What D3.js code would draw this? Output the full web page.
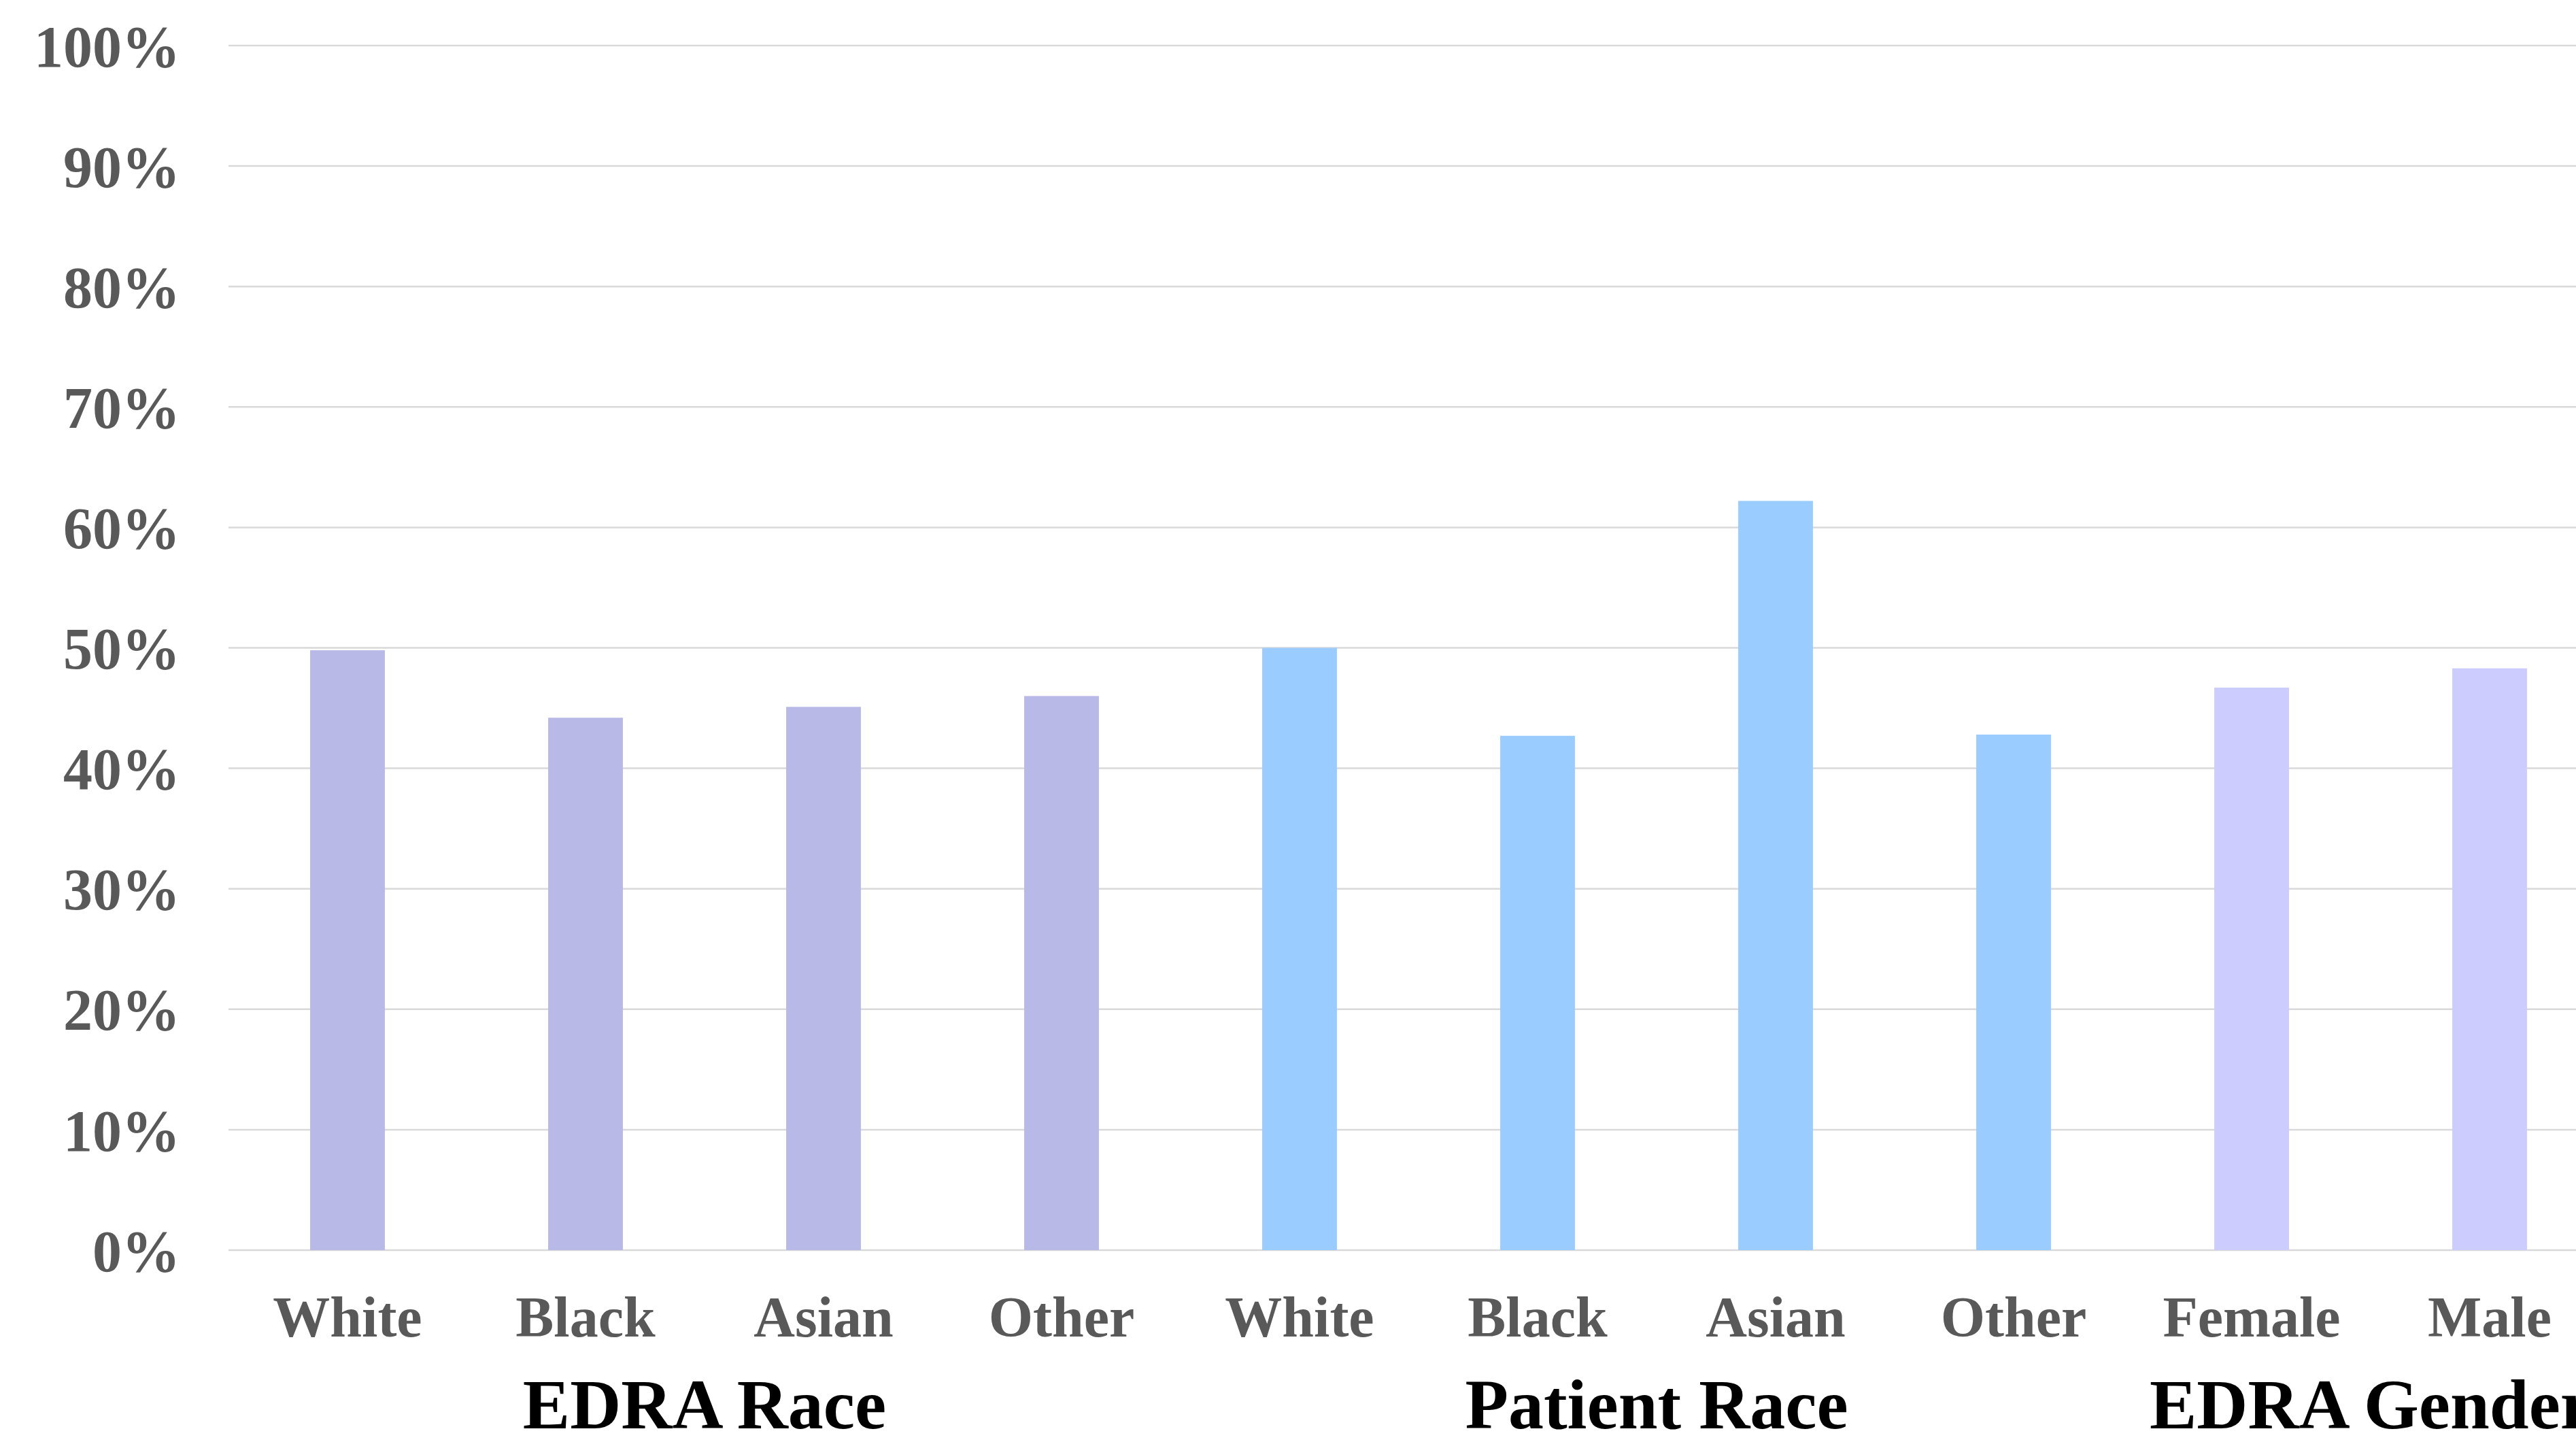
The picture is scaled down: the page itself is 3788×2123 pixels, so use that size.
<!DOCTYPE html>
<html>
<head>
<meta charset="utf-8">
<script src="https://cdn.jsdelivr.net/npm/d3@7"></script>
<style>
  html, body { margin: 0; padding: 0; background: #ffffff; overflow: hidden; }
  svg { display: block; }
</style>
</head>
<body>
<div id="chart"></div>
<script>
// Category labels along the x axis, in drawing order
const categories = ["White", "Black", "Asian", "Other", "White", "Black", "Asian", "Other", "Female", "Male"];
// Group each category belongs to (index into groups)
const groupIndex = [0, 0, 0, 0, 1, 1, 1, 1, 2, 2];
const groups = ["EDRA Race", "Patient Race", "EDRA Gender"];
// Bar values, percent
const values = [49.8, 44.2, 45.1, 46.0, 50.0, 42.7, 62.2, 42.8, 46.7, 48.3];
// Y-axis ticks, percent
const yTicks = [0, 10, 20, 30, 40, 50, 60, 70, 80, 90, 100];
// Fill for each group
const groupColors = ["#B8B9E6", "#9BCCFF", "#CCCCFF"];

const W = 3788, H = 2123;
const plot = { left: 336, right: 3836, top: 67, bottom: 1838 };

const svg = d3.select("#chart").append("svg")
  .attr("width", W).attr("height", H)
  .style("font-family", "'Liberation Serif', 'Times New Roman', serif");

const keys = categories.map((c, i) => i);

const x = d3.scaleBand()
  .domain(keys)
  .range([plot.left, plot.right])
  .paddingInner(0.686)
  .paddingOuter(0.343);

const y = d3.scaleLinear()
  .domain([0, 100])
  .range([plot.bottom, plot.top]);

// Horizontal gridlines
svg.append("g")
  .selectAll("line")
  .data(yTicks)
  .join("line")
  .attr("x1", plot.left)
  .attr("x2", plot.right)
  .attr("y1", d => y(d))
  .attr("y2", d => y(d))
  .attr("stroke", "#D9D9D9")
  .attr("stroke-width", 2.5);

// Y axis labels
const yAxis = d3.axisLeft(y)
  .tickValues(yTicks)
  .tickSize(0)
  .tickPadding(0)
  .tickFormat(d => d + "%");

const yg = svg.append("g")
  .attr("transform", `translate(${plot.left - 71},0)`)
  .call(yAxis);
yg.select(".domain").remove();
yg.selectAll("text")
  .attr("fill", "#595959")
  .attr("font-size", 86)
  .attr("font-weight", "bold")
  .attr("dy", "0.35em")
  .style("font-family", "'Liberation Serif', 'Times New Roman', serif");

// Bars
svg.append("g")
  .selectAll("rect")
  .data(values)
  .join("rect")
  .attr("x", (d, i) => x(i))
  .attr("width", x.bandwidth())
  .attr("y", d => y(d))
  .attr("height", d => y(0) - y(d))
  .attr("fill", (d, i) => groupColors[groupIndex[i]]);

// Category labels
const xAxis = d3.axisBottom(x)
  .tickSize(0)
  .tickPadding(0)
  .tickFormat(i => categories[i]);

const xg = svg.append("g")
  .attr("transform", `translate(0,${plot.bottom})`)
  .call(xAxis);
xg.select(".domain").remove();
xg.selectAll("text")
  .attr("fill", "#595959")
  .attr("font-size", 84)
  .attr("font-weight", "bold")
  .attr("y", 127)
  .attr("dy", 0)
  .style("font-family", "'Liberation Serif', 'Times New Roman', serif");

// Group labels centred under their categories
svg.append("g")
  .selectAll("text")
  .data(groups)
  .join("text")
  .attr("x", (g, gi) => {
    const idx = keys.filter(k => groupIndex[k] === gi);
    const x0 = x(idx[0]) - x.step() * x.paddingInner() / 2;
    const x1 = x(idx[idx.length - 1]) + x.bandwidth() + x.step() * x.paddingInner() / 2;
    return (x0 + x1) / 2;
  })
  .attr("y", 2100)
  .attr("text-anchor", "middle")
  .attr("font-size", 104)
  .attr("font-weight", "bold")
  .attr("fill", "#000000")
  .text(g => g);
</script>
</body>
</html>
